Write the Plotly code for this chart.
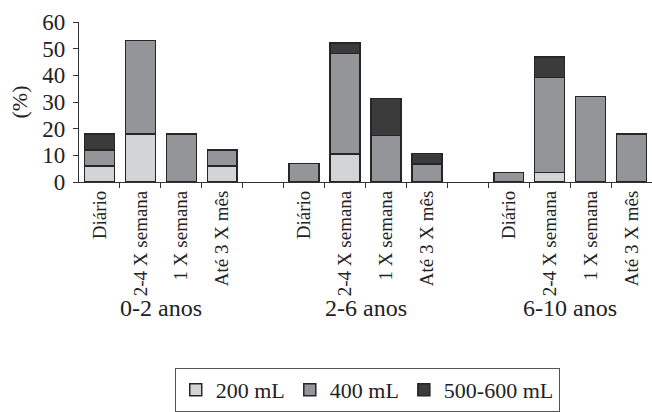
import plotly.graph_objects as go

# Age groups and frequency categories
age_groups = ["0-2 anos", "2-6 anos", "6-10 anos"]
frequencies = ["Diário", "2-4 X semana", "1 X semana", "Até 3 X mês"]

# Percent of children per volume, ordered age group by age group, frequency by frequency
vol_200 = [6, 18, 0, 6,    0, 10.5, 0, 0,     0, 3.6, 0, 0]
vol_400 = [6, 35, 18, 6,   7, 37.7, 17.4, 6.8,  3.6, 35.6, 32.1, 18]
vol_500 = [6, 0, 0, 0,     0, 3.9, 13.9, 3.8,  0, 7.6, 0, 0]

series_names = ["200 mL", "400 mL", "500-600 mL"]
series_colors = ["#d3d4d5", "#939598", "#3b3b3b"]

# Slot positions: four bars per group with an empty slot between groups
positions = []
labels = []
for g in range(len(age_groups)):
    for f, name in enumerate(frequencies):
        positions.append(g * 5 + f)
        labels.append(name)
boundaries = [p + 0.5 for p in range(13)]
group_centers = [g * 5 + 1.5 for g in range(len(age_groups))]

FONT = "'Liberation Serif', 'Times New Roman', Times, serif"
fig = go.Figure()
for name, vals, col in zip(series_names, [vol_200, vol_400, vol_500], series_colors):
    fig.add_trace(go.Bar(
        x=positions, y=vals, name=name, width=0.73,
        marker=dict(color=col, line=dict(color="#262626", width=1.5)),
    ))

for name, xc in zip(age_groups, group_centers):
    fig.add_annotation(x=xc, y=-0.88, xref="x", yref="paper", text=name,
                       showarrow=False, font=dict(family=FONT, size=24, color="#222"))

fig.update_layout(
    barmode="stack",
    width=652, height=412,
    margin=dict(l=79, r=0, t=22, b=230),
    plot_bgcolor="white", paper_bgcolor="white",
    font=dict(family=FONT, size=20, color="#222"),
    showlegend=True,
    legend=dict(
        orientation="h", x=0.503, xanchor="center", y=-1.169, yanchor="top",
        bordercolor="#555", borderwidth=1, font=dict(family=FONT, size=22),
        itemwidth=30, traceorder="normal",
    ),
    xaxis=dict(
        range=[-0.5, 13.5], tickmode="array", tickvals=positions, ticktext=labels,
        tickangle=-90, ticks="", showline=True, linecolor="#333", linewidth=1.2,
        showgrid=False, zeroline=False,
        minor=dict(tickmode="array", tickvals=boundaries, ticks="outside",
                   ticklen=5, tickcolor="#333", showgrid=False),
        tickfont=dict(family=FONT, size=19),
    ),
    yaxis=dict(
        range=[0, 60], dtick=10, ticks="outside", ticklen=5, tickcolor="#333",
        showline=True, linecolor="#333", linewidth=1.2, showgrid=False,
        zeroline=False, tickfont=dict(family=FONT, size=23), ticklabelstandoff=3,
        title=dict(text="(%)", font=dict(family=FONT, size=22), standoff=8),
    ),
)

fig.write_html("out.html")
